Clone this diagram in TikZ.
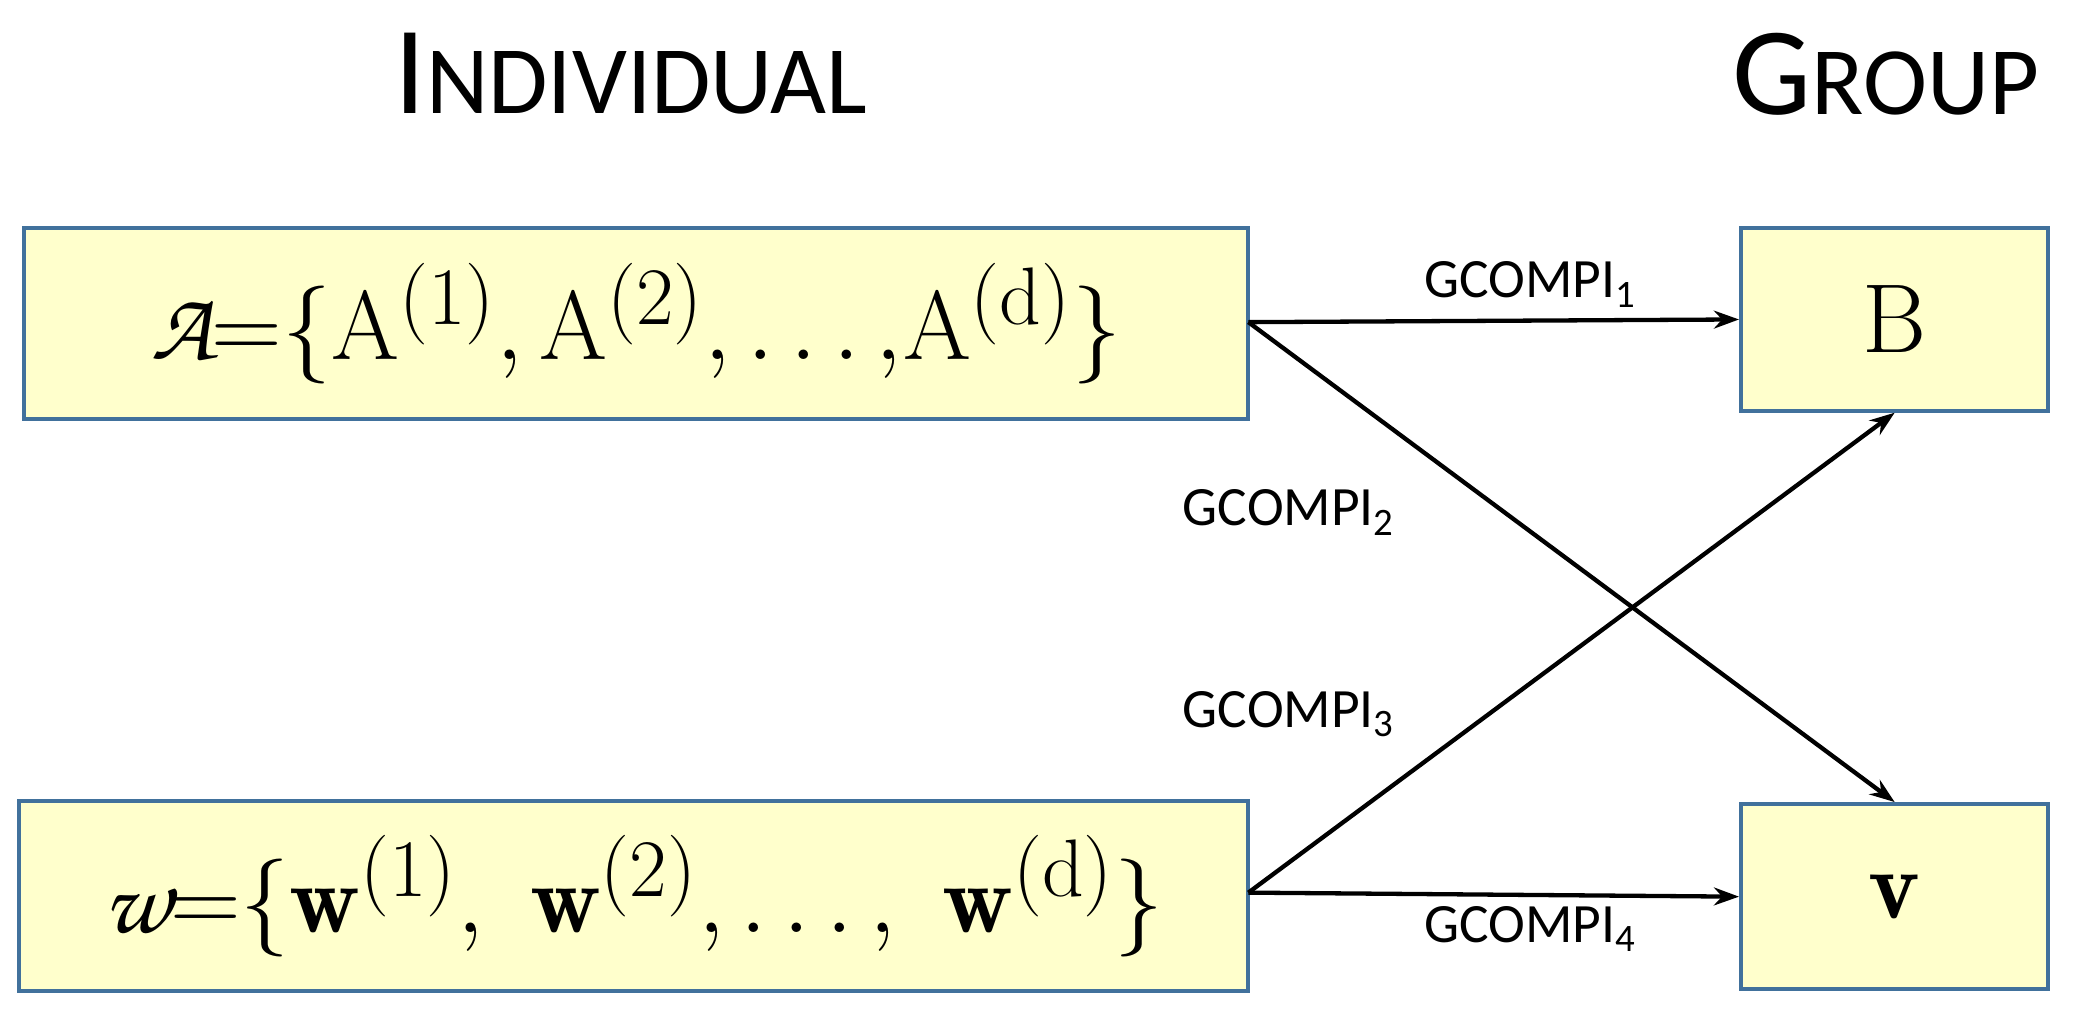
\documentclass[tikz,border=0pt]{standalone}
\usepackage{amsmath}
\usepackage{fontspec}
\newfontfamily\carl{Carlito}
\usetikzlibrary{arrows.meta}
\newcommand{\zc}[1]{\text{\usefont{OT1}{pzc}{m}{it}#1}}
\begin{document}
\begin{tikzpicture}[x=0.75pt,y=-0.75pt,
  box/.style={draw={rgb,255:red,65;green,113;blue,156}, line width=2.2pt, fill={rgb,255:red,255;green,255;blue,204}, inner sep=0pt},
  mtxt/.style={scale=2.2, font=\Huge},
  arr/.style={line width=2.4pt, -{Stealth[length=14pt,width=10pt]}},
  lab/.style={font=\carl\fontsize{31}{31}\selectfont},
  ttl/.style={font=\carl\fontsize{70}{70}\selectfont}]
\useasboundingbox (0,0) rectangle (1560,755);
\node[ttl] (ti) at (470,55) {I\fontsize{54}{54}\selectfont NDIVIDUAL};
\node[ttl] (tg) at (1405,55) {G\fontsize{54}{54}\selectfont ROUP};
\node[box, minimum width=912*0.75pt, minimum height=142*0.75pt] (A) at (474,241) {};
\node[mtxt] (At) at (474,241) {$\zc{A}{=}\{\mathrm{A}^{(1)}, \mathrm{A}^{(2)}, \ldots{,}\mathrm{A}^{(\mathrm{d})}\}$};
\node[box, minimum width=916*0.75pt, minimum height=141*0.75pt] (W) at (472,667.5) {};
\node[mtxt] (Wt) at (472,667.5) {$\zc{w}{=}\{\mathbf{w}^{(1)},\ \mathbf{w}^{(2)}, \ldots,\ \mathbf{w}^{(\mathrm{d})}\}$};
\node[box, minimum width=229*0.75pt, minimum height=136*0.75pt] (B) at (1411.5,238) {};
\node[mtxt] (Bt) at (1411.5,238) {$\mathrm{B}$};
\node[box, minimum width=229*0.75pt, minimum height=138*0.75pt] (V) at (1411.5,668) {};
\node[mtxt] (Vt) at (1411.5,668) {$\mathbf{v}$};
\coordinate (a) at (930,240);
\coordinate (w) at (930,665);
\draw[arr] (a) -- (B.west);
\draw[arr] (a) -- (V.north);
\draw[arr] (w) -- (B.south);
\draw[arr] (w) -- (V.west);
\node[lab] (l1) at (1140,212) {GCOMPI$_{\text{\carl 1}}$};
\node[lab] (l2) at (960,382) {GCOMPI$_{\text{\carl 2}}$};
\node[lab] (l3) at (960,532) {GCOMPI$_{\text{\carl 3}}$};
\node[lab] (l4) at (1140,692) {GCOMPI$_{\text{\carl 4}}$};
\end{tikzpicture}
\end{document}
